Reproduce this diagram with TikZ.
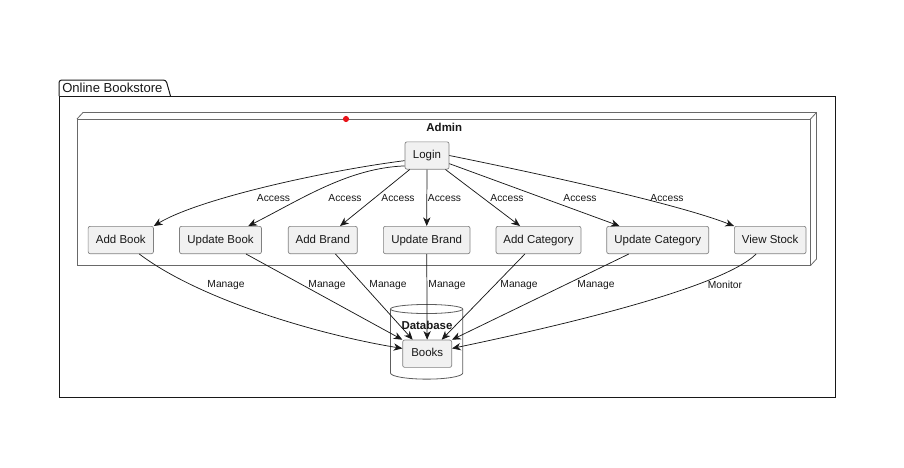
\documentclass[tikz,border=0pt]{standalone}
\usepackage{fontspec}
\setmainfont{Liberation Sans}
\usetikzlibrary{arrows.meta}
\definecolor{boxfill}{HTML}{F1F1F1}
\definecolor{ink}{HTML}{181818}
\definecolor{dotred}{HTML}{E8141A}
\begin{document}
\begin{tikzpicture}[x=0.75pt,y=-0.75pt,
  uc/.style={draw=ink!55, fill=boxfill, rounded corners=1.5pt, line width=0.5pt,
    minimum height=20.5pt, inner sep=0pt, text height=6.3pt, text depth=1.7pt,
    text=ink, font=\fontsize{8.6}{10}\selectfont},
  lab/.style={font=\fontsize{7.7}{9}\selectfont, inner sep=0pt, text=ink},
  title/.style={font=\bfseries\fontsize{8.6}{10}\selectfont, inner sep=0pt, text=ink},
  arr/.style={draw=ink, line width=0.55pt, -{Stealth[length=6.5pt,width=5.5pt,inset=2pt]}},
  frame/.style={draw=ink, line width=0.75pt},
  adm/.style={draw=ink!65, line width=0.6pt},
]
\useasboundingbox (0,0) rectangle (904,468);

% package frame with its tab
\draw[frame, rounded corners=2pt] (59,96) -- (59,80) -- (166,80) -- (170.5,96);
\draw[frame] (59,96) rectangle (835,397);
\node[font=\fontsize{9.8}{12}\selectfont, text=ink, anchor=west, inner sep=0pt] (pkg) at (62,88) {Online Bookstore};

% Admin node drawn as a 3D box
\draw[adm] (77,119) rectangle (810.5,265.5);
\draw[adm] (77,119) -- (83,112.5) -- (816.5,112.5) -- (816.5,259) -- (810.5,265.5);
\draw[adm] (810.5,119) -- (816.5,112.5);
\node[title] (admin) at (444.3,127) {Admin};
\fill[dotred] (346,119) circle[radius=2.3pt];

% Database cylinder
\filldraw[draw=ink!70, fill=white, line width=0.6pt]
  (390.5,309) -- (390.5,373) arc[start angle=180, end angle=360, x radius=27.1pt, y radius=4.6pt]
  -- (462.7,309);
\draw[draw=ink!70, line width=0.6pt] (426.6,309) ellipse[x radius=27.1pt, y radius=3.4pt];
\node[title] (db) at (427,325) {Database};

% use cases
\node[uc, minimum width=33pt] (login) at (427,155.5) {Login};
\node[uc, minimum width=49pt] (addbook) at (120.8,240) {Add Book};
\node[uc, minimum width=61.5pt] (updbook) at (220.5,240) {Update Book};
\node[uc, minimum width=51.75pt] (addbrand) at (322.8,240) {Add Brand};
\node[uc, minimum width=65pt] (updbrand) at (426.7,240) {Update Brand};
\node[uc, minimum width=63.75pt] (addcat) at (538.5,240) {Add Category};
\node[uc, minimum width=76.5pt] (updcat) at (657.7,240) {Update Category};
\node[uc, minimum width=53.75pt] (viewstock) at (770.2,240) {View Stock};
\node[uc, minimum width=36.75pt] (books) at (427.2,353.7) {Books};

% access connectors
\draw[arr] (login.193) .. controls (330,170) and (200,198) .. (addbook.north east);
\draw[arr] (login.205) .. controls (348,168) and (300,200) .. (updbook);
\draw[arr] (login) -- (addbrand);
\draw[arr] (login) -- (updbrand);
\draw[arr] (login) -- (addcat);
\draw[arr] (login) -- (updcat);
\draw[arr] (login.east) .. controls (560,178) and (680,205) .. (viewstock.north west);

\node[lab] (a1) at (273.5,198) {Access};
\node[lab] (a2) at (345,198) {Access};
\node[lab] (a3) at (398,198) {Access};
\node[lab] (a4) at (444.5,198) {Access};
\node[lab] (a5) at (507,198) {Access};
\node[lab] (a6) at (580,198) {Access};
\node[lab] (a7) at (667,198) {Access};

% manage connectors
\draw[arr] (addbook) .. controls (200,300) and (320,335) .. (books.168);
\draw[arr] (updbook) -- (books.north west);
\draw[arr] (addbrand) -- (books.136);
\draw[arr] (updbrand) -- (books);
\draw[arr] (addcat) -- (books.44);
\draw[arr] (updcat) -- (books.north east);
\draw[arr] (viewstock) .. controls (720,290) and (540,330) .. (books.12);

\node[lab] (m1) at (226,285) {Manage};
\node[lab] (m2) at (327,285) {Manage};
\node[lab] (m3) at (388,285) {Manage};
\node[lab] (m4) at (447,285) {Manage};
\node[lab] (m5) at (519,285) {Manage};
\node[lab] (m6) at (596,285) {Manage};
\node[lab] (m7) at (725,285) {Monitor};
\end{tikzpicture}
\end{document}
